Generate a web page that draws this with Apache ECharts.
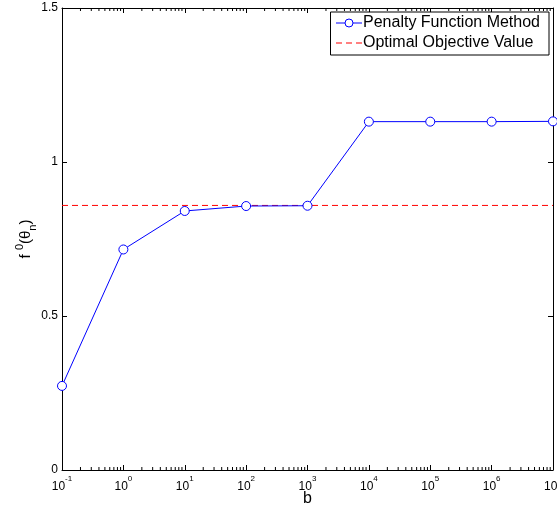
<!DOCTYPE html>
<html>
<head>
<meta charset="utf-8">
<script src="https://cdn.jsdelivr.net/npm/echarts@6/dist/echarts.min.js"></script>
<style>
html,body{margin:0;padding:0;background:#fff;}
#main{width:557px;height:506px;}
</style>
</head>
<body>
<div id="main"></div>
<script>
// Data
const bValues = [0.1, 1, 10, 100, 1000, 10000, 100000, 1000000, 10000000];
const penaltyValues = [0.273, 0.716, 0.841, 0.857, 0.858, 1.131, 1.131, 1.131, 1.132];
const optimalValue = 0.859;
const seriesNames = ['Penalty Function Method', 'Optimal Objective Value'];
const yTicks = [0, 0.5, 1, 1.5];
const xDecadeExponents = [-1, 0, 1, 2, 3, 4, 5, 6, 7];
const minorMultipliers = [2, 3, 4, 5, 6, 7, 8, 9];

const xMin = 0.1, xMax = 1e7, yMin = 0, yMax = 1.5;

// minor tick positions on log axis
const minorTicks = [];
for (let i = 0; i < xDecadeExponents.length - 1; i++) {
  for (const m of minorMultipliers) {
    minorTicks.push([m * Math.pow(10, xDecadeExponents[i]), 0]);
  }
}

const font = 'Liberation Sans, Arial, Helvetica, sans-serif';
const chart = echarts.init(document.getElementById('main'), null, {renderer: 'canvas'});

const xLabelRich = {
  base: {fontSize: 12, fontFamily: font, color: '#000', verticalAlign: 'bottom', lineHeight: 18},
  sup: {fontSize: 8, fontFamily: font, color: '#000', verticalAlign: 'top', lineHeight: 18}
};

chart.setOption({
  animation: false,
  backgroundColor: '#fff',
  grid: {left: 62, right: 4, top: 8, bottom: 36, containLabel: false, outerBoundsMode: 'none'},
  legend: {
    data: [
      {name: seriesNames[0], lineStyle: {width: 1}, itemStyle: {borderWidth: 1}},
      {name: seriesNames[1], lineStyle: {width: 1}, itemStyle: {opacity: 0}}
    ],
    orient: 'vertical',
    right: 8,
    top: 12,
    backgroundColor: '#fff',
    borderColor: '#000',
    borderWidth: 1,
    borderRadius: 0,
    padding: [3, 9, 4, 5],
    itemWidth: 26,
    itemHeight: 10,
    itemGap: 4,
    textStyle: {fontSize: 16, lineHeight: 16, fontFamily: font, color: '#000', padding: [0, 0, 0, -4]}
  },
  xAxis: [{
    type: 'log',
    logBase: 10,
    min: xMin,
    max: xMax,
    position: 'bottom',
    name: 'b',
    nameLocation: 'middle',
    nameGap: 21,
    nameMoveOverlap: false,
    nameTextStyle: {fontSize: 16, fontFamily: font, color: '#000', verticalAlign: 'top'},
    axisLine: {onZero: false, lineStyle: {color: '#000', width: 1}},
    axisTick: {inside: true, length: 5, lineStyle: {color: '#000'}},
    splitLine: {show: false},
    axisLabel: {
      margin: 5,
      formatter: function (v) {
        const e = Math.round(Math.log10(v));
        return '{base|10}{sup|' + e + '}';
      },
      rich: xLabelRich
    }
  }, {
    type: 'log',
    logBase: 10,
    min: xMin,
    max: xMax,
    position: 'top',
    axisLine: {onZero: false, lineStyle: {color: '#000', width: 1}},
    axisTick: {inside: true, length: 5, lineStyle: {color: '#000'}},
    axisLabel: {show: false},
    splitLine: {show: false}
  }],
  yAxis: [{
    type: 'value',
    min: yMin,
    max: yMax,
    interval: 0.5,
    position: 'left',
    name: 'f {sup|0}(θ{sub|n})',
    nameLocation: 'middle',
    nameGap: 24,
    nameMoveOverlap: false,
    nameRotate: 90,
    nameTextStyle: {
      fontSize: 15, fontFamily: font, color: '#000', lineHeight: 24,
      rich: {
        sup: {fontSize: 11, fontFamily: font, color: '#000', verticalAlign: 'top', lineHeight: 24},
        sub: {fontSize: 11, fontFamily: font, color: '#000', verticalAlign: 'bottom', lineHeight: 24}
      }
    },
    axisLine: {onZero: false, lineStyle: {color: '#000', width: 1}},
    axisTick: {inside: true, length: 5, lineStyle: {color: '#000'}},
    splitLine: {show: false},
    axisLabel: {margin: 4, fontSize: 12, fontFamily: font, color: '#000',
      formatter: function (v) { return String(v); }}
  }, {
    type: 'value',
    min: yMin,
    max: yMax,
    interval: 0.5,
    position: 'right',
    axisLine: {onZero: false, lineStyle: {color: '#000', width: 1}},
    axisTick: {inside: true, length: 5, lineStyle: {color: '#000'}},
    axisLabel: {show: false},
    splitLine: {show: false}
  }],
  series: [{
    name: seriesNames[0],
    type: 'line',
    data: bValues.map((b, i) => [b, penaltyValues[i]]),
    symbol: 'circle',
    symbolSize: 9,
    lineStyle: {color: '#0000ff', width: 1},
    itemStyle: {color: '#ffffff', borderColor: '#0000ff', borderWidth: 1},
    z: 3
  }, {
    name: seriesNames[1],
    type: 'line',
    data: [[xMin, optimalValue], [xMax, optimalValue]],
    symbol: 'none',
    lineStyle: {color: '#ff0000', width: 1, type: [6, 4], opacity: 1},
    itemStyle: {color: '#ff0000'},
    z: 2
  }, {
    name: 'minorTicks',
    type: 'custom',
    data: minorTicks,
    silent: true,
    clip: false,
    encode: {x: 0, y: 1},
    renderItem: function (params, api) {
      const x = api.value(0);
      const pb = api.coord([x, yMin]);
      const pt = api.coord([x, yMax]);
      return {
        type: 'group',
        children: [
          {type: 'line', shape: {x1: pb[0], y1: pb[1], x2: pb[0], y2: pb[1] - 3}, style: {stroke: '#000', lineWidth: 1}},
          {type: 'line', shape: {x1: pt[0], y1: pt[1], x2: pt[0], y2: pt[1] + 3}, style: {stroke: '#000', lineWidth: 1}}
        ]
      };
    },
    z: 1
  }]
});
</script>
</body>
</html>
